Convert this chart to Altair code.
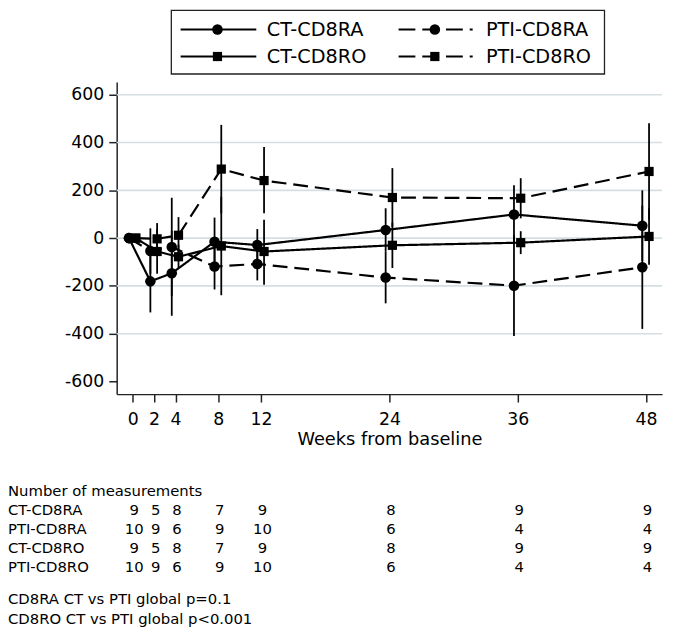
import altair as alt
import pandas as pd

# ---------------- data ----------------
weeks = [0, 2, 4, 8, 12, 24, 36, 48]
series = ["CT-CD8RA", "PTI-CD8RA", "CT-CD8RO", "PTI-CD8RO"]
groups = ["CT", "PTI", "CT", "PTI"]
cells = ["RA", "RA", "RO", "RO"]

ct_ra_mean = [0, -181, -147, -15, -29, 34, 99, 52]
ct_ra_lo = [0, -311, -325, -116, -96, -57, -23, -96]
ct_ra_hi = [0, -51, 31, 86, 38, 125, 221, 200]

pti_ra_mean = [0, -54, -37, -119, -108, -165, -199, -122]
pti_ra_lo = [0, -149, -243, -215, -177, -273, -410, -380]
pti_ra_hi = [0, 41, 169, -23, -39, -57, 12, 136]

ct_ro_mean = [0, -56, -78, -33, -56, -30, -19, 7]
ct_ro_lo = [0, -149, -128, -239, -195, -125, -67, -111]
ct_ro_hi = [0, 37, -28, 173, 77, 65, 29, 125]

pti_ro_mean = [0, -3, 12, 289, 241, 170, 167, 279]
pti_ro_lo = [0, -69, -64, 104, 104, 47, 83, 77]
pti_ro_hi = [0, 63, 88, 474, 381, 293, 251, 481]

n_ct_ra = [9, 5, 8, 7, 9, 8, 9, 9]
n_pti_ra = [10, 9, 6, 9, 10, 6, 4, 4]
n_ct_ro = [9, 5, 8, 7, 9, 8, 9, 9]
n_pti_ro = [10, 9, 6, 9, 10, 6, 4, 4]

y_ticks = [-600, -400, -200, 0, 200, 400, 600]
grid_values = [-400, -200, 0, 200, 400, 600]
table_title = "Number of measurements"
notes = ["CD8RA CT vs PTI global p=0.1", "CD8RO CT vs PTI global p<0.001"]
x_title = "Weeks from baseline"

# ---------------- build tables ----------------
means = [ct_ra_mean, pti_ra_mean, ct_ro_mean, pti_ro_mean]
los = [ct_ra_lo, pti_ra_lo, ct_ro_lo, pti_ro_lo]
his = [ct_ra_hi, pti_ra_hi, ct_ro_hi, pti_ro_hi]
counts = [n_ct_ra, n_pti_ra, n_ct_ro, n_pti_ro]

rows = []
for s, g, c, m, lo, hi in zip(series, groups, cells, means, los, his):
    for w, mv, l, h in zip(weeks, m, lo, hi):
        rows.append({"series": s, "grp": g, "cell": c, "week": w,
                     "mean": mv, "lo": l, "hi": h})
df = pd.DataFrame(rows)

FONT = "DejaVu Sans"
BLACK = "#000000"
X_MIN, X_MAX = -1.5, 49.5

xscale = alt.Scale(domain=[X_MIN, X_MAX], nice=False, zero=False)
yscale = alt.Scale(domain=[-653, 654], nice=False, zero=False)

jitter = "datum.week + (datum.cell == 'RA' ? -0.35 : 0.28)"

x_axis = alt.Axis(values=weeks, title=x_title, grid=False,
                  tickSize=8, labelPadding=9, titlePadding=2,
                  labelFontSize=17.5, titleFontSize=18,
                  labelFont=FONT, titleFont=FONT,
                  titleFontWeight="normal", labelColor=BLACK,
                  titleColor=BLACK, domainColor="#222",
                  tickColor="#222", domainWidth=1.5, tickWidth=1.5,
                  labelFlush=False)
y_axis = alt.Axis(values=y_ticks, title=None, tickSize=8, labelPadding=5,
                  labelFontSize=17.5, labelFont=FONT, labelColor=BLACK,
                  domainColor="#222", tickColor="#222", domainWidth=1.5,
                  tickWidth=1.5, labelExpr="'' + datum.value",
                  grid=False, labelFlush=False)

# light horizontal grid lines across the plot, drawn underneath
grid = alt.Chart(pd.DataFrame({"g": grid_values})).mark_rule(
    color="#d5dee3", strokeWidth=1.6).encode(
    y=alt.Y("g:Q", scale=yscale, axis=y_axis),
    x=alt.X(datum=X_MIN, scale=xscale, axis=x_axis),
    x2=alt.X2(datum=X_MAX))

base = alt.Chart(df).transform_calculate(xj=jitter)

dash = alt.StrokeDash("grp:N",
                      scale=alt.Scale(domain=["CT", "PTI"],
                                      range=[[1, 0], [15, 7]]),
                      legend=None)

errbars = base.mark_rule(color=BLACK, strokeWidth=1.8).encode(
    x=alt.X("xj:Q", scale=xscale, axis=x_axis),
    y=alt.Y("lo:Q", scale=yscale, axis=y_axis),
    y2="hi:Q",
    detail="series:N",
)

lines = base.mark_line(color=BLACK, strokeWidth=2.2).encode(
    x="xj:Q",
    y="mean:Q",
    detail="series:N",
    strokeDash=dash,
    order="week:Q",
)

circles = base.transform_filter("datum.cell == 'RA'").mark_point(
    filled=True, color=BLACK, opacity=1, shape="circle", size=114
).encode(x="xj:Q", y="mean:Q")

squares = base.transform_filter("datum.cell == 'RO'").mark_point(
    filled=True, color=BLACK, opacity=1, shape="square", size=87
).encode(x="xj:Q", y="mean:Q")

# ---------------- manual legend ----------------
one = pd.DataFrame({"k": [0]})
legend_layers = [
    alt.Chart(one).mark_rect(fill="white", fillOpacity=0, stroke="#222",
                             strokeWidth=1.3).encode(
        x=alt.value(55.3), x2=alt.value(493.7),
        y=alt.value(-72.3), y2=alt.value(-8))
]
leg_cols = {"CT": (64.7, 141.3, 102, 152), "PTI": (285.3, 360.3, 322, 373.7)}
leg_rows = {"RA": -53, "RO": -25.7}
for s, g, c in zip(series, groups, cells):
    x1, x2, xm, xt = leg_cols[g]
    yy = leg_rows[c]
    legend_layers.append(
        alt.Chart(one).mark_rule(color=BLACK, strokeWidth=2.2,
                                 strokeDash=[1, 0] if g == "CT" else [17, 7]).encode(
            x=alt.value(x1), x2=alt.value(x2), y=alt.value(yy)))
    legend_layers.append(
        alt.Chart(one).mark_point(filled=True, color=BLACK, opacity=1,
                                  shape="circle" if c == "RA" else "square",
                                  size=114 if c == "RA" else 87).encode(
            x=alt.value(xm), y=alt.value(yy)))
    legend_layers.append(
        alt.Chart(pd.DataFrame({"t": [s]})).mark_text(
            align="left", baseline="middle", font=FONT, fontSize=19.5,
            color=BLACK).encode(x=alt.value(xt), y=alt.value(yy + 1),
                                text="t:N"))

# ---------------- table of counts and notes ----------------
table_layers = [
    alt.Chart(pd.DataFrame({"t": [table_title]})).mark_text(
        align="left", baseline="middle", font=FONT, fontSize=15,
        color=BLACK).encode(x=alt.value(-110), y=alt.value(413.7), text="t:N")
]
row_y = [433.7, 452.7, 472, 491.3]
for s, cnt, yy in zip(series, counts, row_y):
    table_layers.append(
        alt.Chart(pd.DataFrame({"t": [s]})).mark_text(
            align="left", baseline="middle", font=FONT, fontSize=15,
            color=BLACK).encode(x=alt.value(-110), y=alt.value(yy), text="t:N"))
    table_layers.append(
        alt.Chart(pd.DataFrame({"week": weeks, "n": cnt})).mark_text(
            align="center", baseline="middle", font=FONT, fontSize=15,
            color=BLACK, dx=1.5).encode(
            x=alt.X("week:Q", scale=xscale), y=alt.value(yy), text="n:Q"))
for note, yy in zip(notes, [523.7, 543.7]):
    table_layers.append(
        alt.Chart(pd.DataFrame({"t": [note]})).mark_text(
            align="left", baseline="middle", font=FONT, fontSize=15,
            color=BLACK).encode(x=alt.value(-110), y=alt.value(yy), text="t:N"))

chart = alt.layer(
    grid, errbars, lines, circles, squares, *legend_layers, *table_layers
).properties(
    width=552, height=316,
    autosize=alt.AutoSizeParams(type="none"),
    padding={"left": 110, "top": 71, "right": 8, "bottom": 240},
    background="white",
).configure_view(stroke=None)

chart.save("out.html", embed_options={"renderer": "svg", "actions": False})
